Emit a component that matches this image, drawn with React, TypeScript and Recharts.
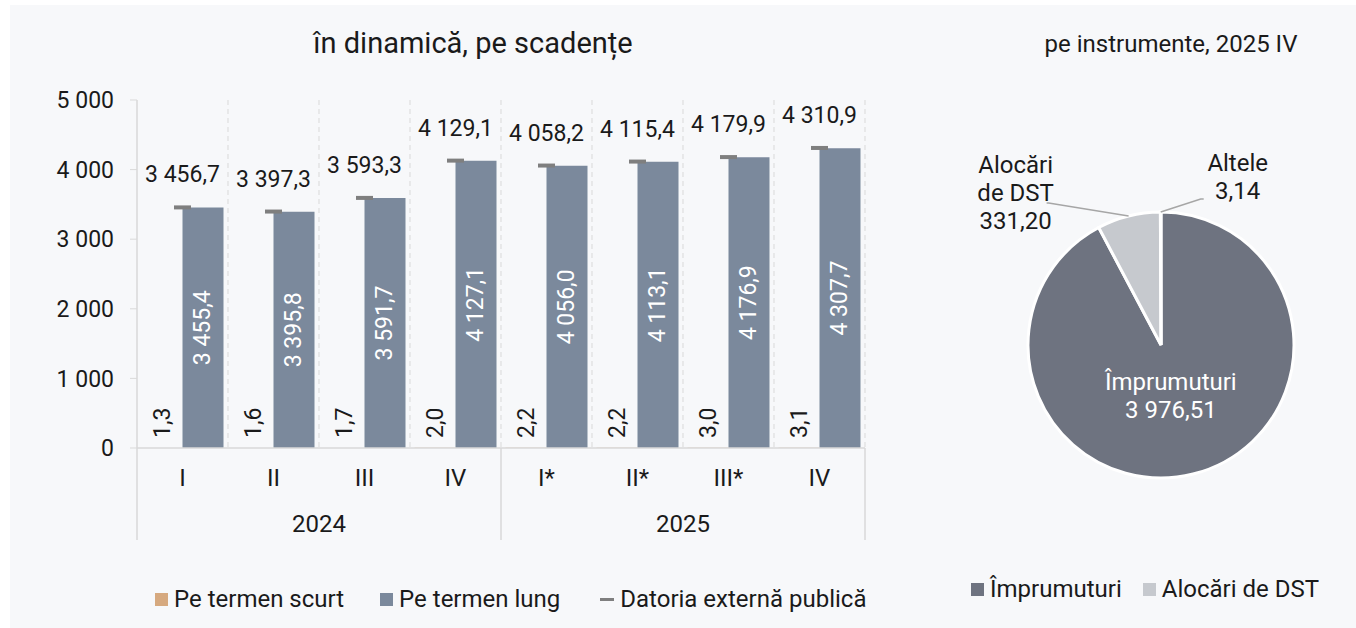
import React from 'react';
import {
  ComposedChart, Bar, Line, XAxis, YAxis, CartesianGrid, LabelList,
  PieChart, Pie, Cell,
} from 'recharts';

// values, mil. USD
const quarters = ['I', 'II', 'III', 'IV', 'I*', 'II*', 'III*', 'IV'];
const years = ['2024', '2024', '2024', '2024', '2025', '2025', '2025', '2025'];
const shortTerm = [1.3, 1.6, 1.7, 2.0, 2.2, 2.2, 3.0, 3.1];
const longTerm = [3455.4, 3395.8, 3591.7, 4127.1, 4056.0, 4113.1, 4176.9, 4307.7];
const publicDebt = [3456.7, 3397.3, 3593.3, 4129.1, 4058.2, 4115.4, 4179.9, 4310.9];
const yTicks = [0, 1000, 2000, 3000, 4000, 5000];

const instrumentNames = ['Împrumuturi', 'Alocări de DST', 'Altele'];
const instrumentValues = [3976.51, 331.2, 3.14];
const instrumentColors = ['#6e7380', '#c6c9ce', '#d6a97f'];

const SHORT_COLOR = '#d6a97f';
const LONG_COLOR = '#7b899c';
const DEBT_COLOR = '#7f7f7f';
const GRID = '#d9d9d9';
const TEXT = '#1a1a1a';

const PLOT_LEFT = 137;
const PLOT_RIGHT = 865;
const CAT_W = (PLOT_RIGHT - PLOT_LEFT) / quarters.length;

const barData = quarters.map((q, i) => ({
  q,
  year: years[i],
  scurt: shortTerm[i],
  lung: longTerm[i],
  total: publicDebt[i],
}));

const pieData = instrumentNames.map((name, i) => ({ name, value: instrumentValues[i] }));

function fmt(v: number, d: number) {
  const [i, f] = v.toFixed(d).split('.');
  return i.replace(/\B(?=(\d{3})+(?!\d))/g, ' ') + (f ? ',' + f : '');
}

const QuarterTick = (props: any) => {
  const { x, y, payload, index } = props;
  const year = years[index];
  const firstOfYear = index === 0 || years[index - 1] !== year;
  const count = years.filter(v => v === year).length;
  return (
    <g>
      <text x={x} y={y + 38} textAnchor="middle" fill={TEXT} fontSize={24}>{payload.value}</text>
      {firstOfYear && (
        <>
          <line x1={x - CAT_W / 2} x2={x - CAT_W / 2} y1={y} y2={y + 92} stroke={GRID} strokeWidth={1.5} />
          <text x={x + (CAT_W * (count - 1)) / 2} y={y + 84} textAnchor="middle" fill={TEXT} fontSize={24}>{year}</text>
        </>
      )}
      {index === years.length - 1 && (
        <line x1={x + CAT_W / 2} x2={x + CAT_W / 2} y1={y} y2={y + 92} stroke={GRID} strokeWidth={1.5} />
      )}
    </g>
  );
};

const DashDot = (props: any) => {
  const { cx, cy } = props;
  if (cx == null || cy == null) return null;
  return <rect x={cx - 8.5} y={cy - 2} width={17} height={4} fill={DEBT_COLOR} />;
};

const TotalLabel = (props: any) => {
  const { x, y, value } = props;
  return <text x={x} y={y - 25} textAnchor="middle" fill={TEXT} fontSize={23}>{fmt(value, 1)}</text>;
};

const LongLabel = (props: any) => {
  const { x, y, width, height, value } = props;
  const cx = x + width / 2;
  const cy = y + height / 2;
  return (
    <text x={cx} y={cy} transform={`rotate(-90 ${cx} ${cy})`} textAnchor="middle"
      dominantBaseline="central" fill="#ffffff" fontSize={23}>{fmt(value, 1)}</text>
  );
};

const ShortLabel = (props: any) => {
  const { x, y, width, height, value } = props;
  const cx = x + width / 2;
  const by = y + height - 10;
  return (
    <text x={cx} y={by} transform={`rotate(-90 ${cx} ${by})`} textAnchor="start"
      dominantBaseline="central" fill={TEXT} fontSize={23}>{fmt(value, 1)}</text>
  );
};

const RAD = Math.PI / 180;

const PieLabel = (props: any) => {
  const { cx, cy, midAngle, outerRadius, percent, name, value } = props;
  const cos = Math.cos(-midAngle * RAD);
  const sin = Math.sin(-midAngle * RAD);
  if (percent > 0.5) {
    const r = outerRadius * 0.4;
    const tx = cx + r * cos - 3;
    const ty = cy + r * sin;
    return (
      <text x={tx} textAnchor="middle" fill="#ffffff" fontSize={24}>
        <tspan x={tx} y={ty - 7}>{name}</tspan>
        <tspan x={tx} y={ty + 21}>{fmt(value, 2)}</tspan>
      </text>
    );
  }
  const ex = cx + outerRadius * cos;
  const ey = cy + outerRadius * sin;
  const left = cos < -0.01;
  const lx = ex + (left ? -80 : 40);
  const ly = ey - 13;
  const sp = name.indexOf(' ');
  const lines = sp > 0 ? [name.slice(0, sp), name.slice(sp + 1)] : [name];
  lines.push(fmt(value, 2));
  const tx = left ? lx - 33 : lx + 37;
  const top = ly - 10 - ((lines.length - 1) * 28) / 2 - (left ? 0 : 12);
  return (
    <g>
      <polyline points={`${ex},${ey} ${lx},${ly} ${lx + (left ? -2 : 3)},${ly}`} fill="none" stroke="#a6a6a6" strokeWidth={1.5} />
      <text textAnchor="middle" fill={TEXT} fontSize={24}>
        {lines.map((l, i) => (
          <tspan key={i} x={tx} y={top + i * 28 + 8}>{l}</tspan>
        ))}
      </text>
    </g>
  );
};

const Swatch = ({ color }: { color: string }) => (
  <span style={{ display: 'inline-block', width: 13, height: 13, background: color, marginRight: 6 }} />
);

export default function App() {
  return (
    <div style={{ position: 'absolute', left: 0, top: 0, width: 1356, height: 628, background: '#ffffff', fontFamily: 'Roboto, sans-serif', color: TEXT }}>
      <div style={{ position: 'absolute', left: 10, top: 5, width: 1346, height: 623, background: '#f7f8fa' }} />

      <div style={{ position: 'absolute', left: 273, top: 26, width: 400, textAlign: 'center', fontSize: 29 }}>
        în dinamică, pe scadențe
      </div>
      <div style={{ position: 'absolute', left: 1021, top: 30, width: 300, textAlign: 'center', fontSize: 24 }}>
        pe instrumente, 2025 IV
      </div>

      <div style={{ position: 'absolute', left: 0, top: 0 }}>
        <ComposedChart width={900} height={628} data={barData}
          margin={{ top: 100, right: 900 - PLOT_RIGHT, bottom: 88, left: PLOT_LEFT - 60 }}
          barCategoryGap={4.5} barGap={0}>
          <CartesianGrid horizontal={false} stroke={GRID} strokeDasharray="5 4"
            verticalCoordinatesGenerator={({ offset }: any) =>
              quarters.map((_, i) => offset.left + ((i + 1) * offset.width) / quarters.length)} />
          <XAxis dataKey="q" interval={0} tickLine={false} tickSize={0} tickMargin={0} height={92}
            axisLine={{ stroke: GRID, strokeWidth: 1.5 }} tick={<QuarterTick />} />
          <YAxis width={60} domain={[0, 5000]} ticks={yTicks} interval={0}
            tickFormatter={(v: number) => fmt(v, 0)} tickSize={7} tickMargin={16}
            axisLine={{ stroke: GRID, strokeWidth: 1.5 }} tickLine={{ stroke: GRID }}
            tick={{ fill: TEXT, fontSize: 23 }} />
          <Bar dataKey="scurt" fill={SHORT_COLOR} isAnimationActive={false}>
            <LabelList dataKey="scurt" content={<ShortLabel />} />
          </Bar>
          <Bar dataKey="lung" fill={LONG_COLOR} isAnimationActive={false}>
            <LabelList dataKey="lung" content={<LongLabel />} />
          </Bar>
          <Line dataKey="total" stroke="none" dot={<DashDot />} activeDot={false} isAnimationActive={false}>
            <LabelList dataKey="total" content={<TotalLabel />} />
          </Line>
        </ComposedChart>
      </div>

      <div style={{ position: 'absolute', left: 900, top: 0 }}>
        <PieChart width={456} height={628} margin={{ top: 0, right: 0, bottom: 0, left: 0 }}>
          <Pie data={pieData} dataKey="value" nameKey="name" cx={261} cy={345} outerRadius={133}
            startAngle={90} endAngle={-270} stroke="#ffffff" strokeWidth={3}
            label={<PieLabel />} labelLine={false} isAnimationActive={false}>
            {pieData.map((d, i) => <Cell key={d.name} fill={instrumentColors[i]} />)}
          </Pie>
        </PieChart>
      </div>

      <div style={{ position: 'absolute', left: 155, top: 585, display: 'flex', alignItems: 'center', fontSize: 24, whiteSpace: 'nowrap' }}>
        <Swatch color={SHORT_COLOR} /><span style={{ marginRight: 36 }}>Pe termen scurt</span>
        <Swatch color={LONG_COLOR} /><span style={{ marginRight: 40 }}>Pe termen lung</span>
        <span style={{ display: 'inline-block', width: 14, height: 3, background: DEBT_COLOR, marginRight: 6 }} />
        <span>Datoria externă publică</span>
      </div>

      <div style={{ position: 'absolute', left: 971, top: 575, display: 'flex', alignItems: 'center', fontSize: 24, whiteSpace: 'nowrap' }}>
        <Swatch color={instrumentColors[0]} /><span style={{ marginRight: 21 }}>{instrumentNames[0]}</span>
        <Swatch color={instrumentColors[1]} /><span>{instrumentNames[1]}</span>
      </div>
    </div>
  );
}
